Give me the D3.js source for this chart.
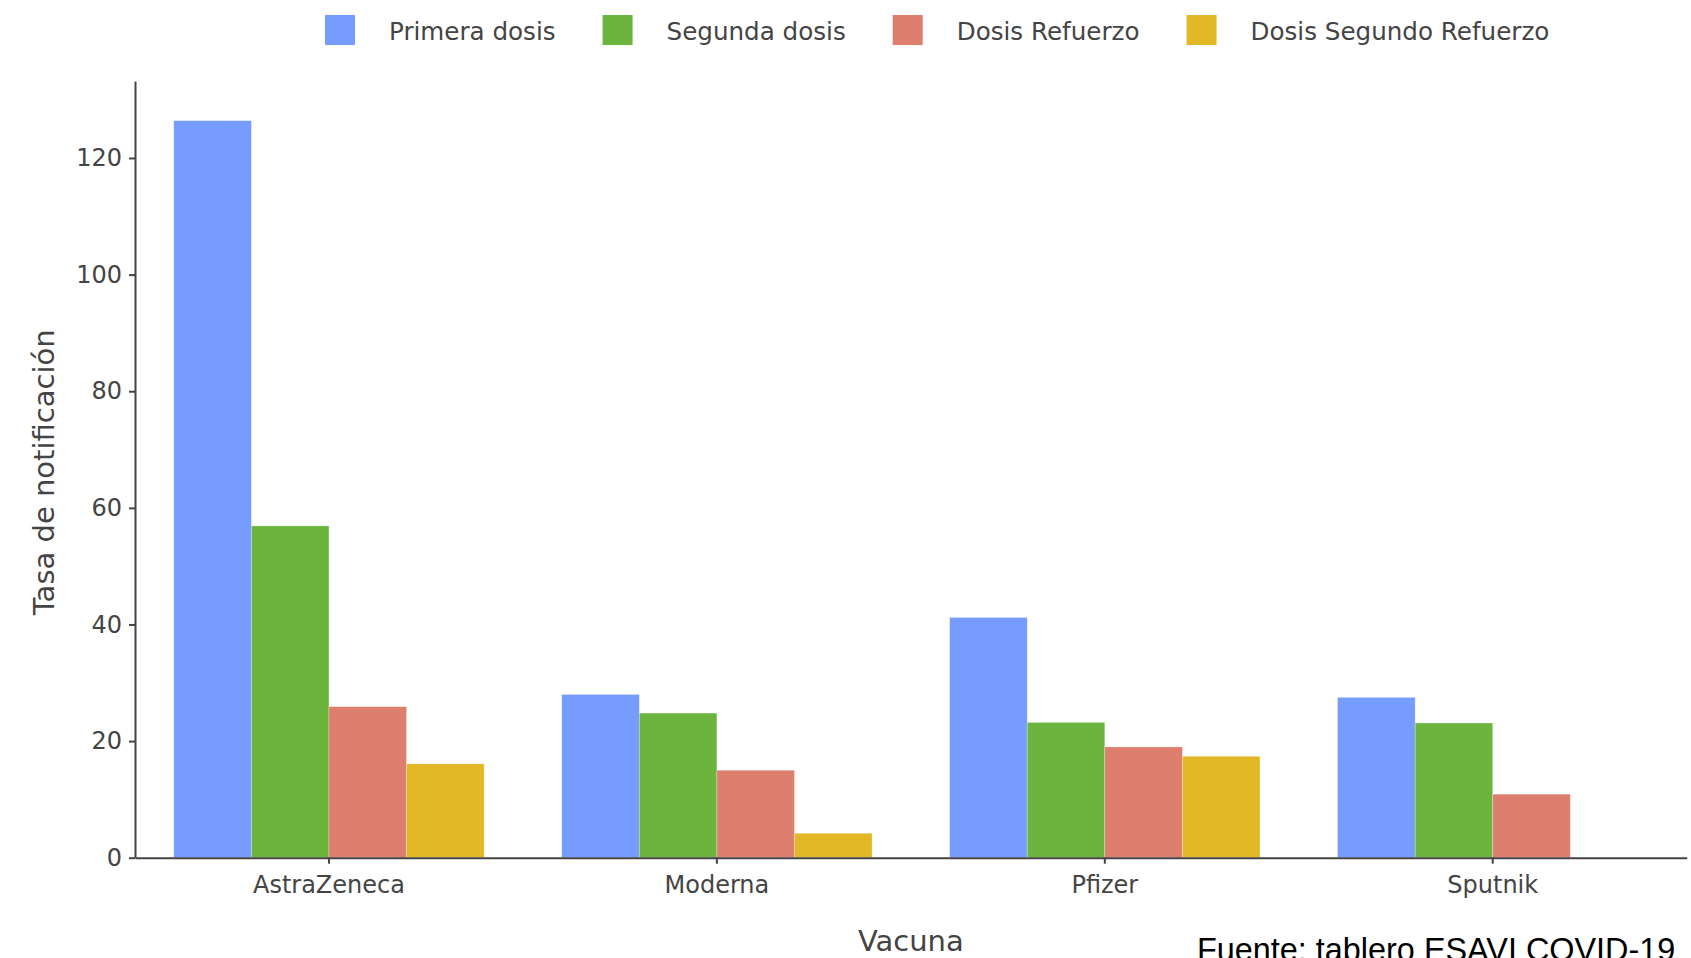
<!DOCTYPE html>
<html>
<head>
<meta charset="utf-8">
<script src="https://cdn.jsdelivr.net/npm/d3@7"></script>
<style>
  html, body { margin: 0; padding: 0; background: #fff; }
  svg { display: block; }
</style>
</head>
<body>
<svg id="chart" width="1691" height="958"></svg>
<script>
const categories = ["AstraZeneca", "Moderna", "Pfizer", "Sputnik"];
const seriesNames = ["Primera dosis", "Segunda dosis", "Dosis Refuerzo", "Dosis Segundo Refuerzo"];
const primeraDosis = [126.4, 28.0, 41.2, 27.5];
const segundaDosis = [56.9, 24.8, 23.2, 23.1];
const dosisRefuerzo = [25.9, 15.0, 19.0, 10.9];
const dosisSegundoRefuerzo = [16.1, 4.2, 17.4, null];
const yTicks = [0, 20, 40, 60, 80, 100, 120];
const colors = ["#779cff", "#6bb43e", "#dd7e6e", "#e2b827"];

const seriesValues = [primeraDosis, segundaDosis, dosisRefuerzo, dosisSegundoRefuerzo];

const svg = d3.select("#chart");
const mLeft = 135, mRight = 1686.7, mTop = 81, mBottom = 857.7;
const font = "'DejaVu Sans', Verdana, sans-serif";
const textColor = "#444";

const x = d3.scaleBand().domain(categories).range([mLeft, mRight]).paddingInner(0.2).paddingOuter(0.1);
const xs = d3.scaleBand().domain(seriesNames).range([0, x.bandwidth()]).padding(0);
const y = d3.scaleLinear().domain([0, 133.2]).range([mBottom, mTop]);

// bars
const data = [];
categories.forEach((c, i) => {
  seriesNames.forEach((s, j) => {
    const v = seriesValues[j][i];
    if (v != null) data.push({ c, s, v, j });
  });
});
svg.append("g").selectAll("rect").data(data).enter().append("rect")
  .attr("x", d => x(d.c) + xs(d.s))
  .attr("width", xs.bandwidth())
  .attr("y", d => y(d.v))
  .attr("height", d => y(0) - y(d.v))
  .attr("fill", d => colors[d.j])
  .attr("stroke", "rgba(255,255,255,0.45)")
  .attr("stroke-width", 0.6);

// y axis
const yAxis = svg.append("g").attr("transform", `translate(${mLeft},0)`)
  .call(d3.axisLeft(y).tickValues(yTicks).tickSize(6).tickPadding(7).tickSizeOuter(0));
yAxis.select(".domain").attr("stroke", "#444").attr("stroke-width", 2);
yAxis.selectAll(".tick line").attr("stroke", "#444").attr("stroke-width", 2);
yAxis.selectAll(".tick text").attr("fill", textColor).attr("font-size", 24).attr("font-family", font);

// x axis
const xAxis = svg.append("g").attr("transform", `translate(0,${mBottom})`)
  .call(d3.axisBottom(x).tickSize(6).tickPadding(12).tickSizeOuter(0));
xAxis.select(".domain").attr("stroke", "#444").attr("stroke-width", 2);
xAxis.selectAll(".tick line").attr("stroke", "#444").attr("stroke-width", 2);
xAxis.selectAll(".tick text").attr("fill", textColor).attr("font-size", 24).attr("font-family", font);

// axis titles
svg.append("text")
  .attr("x", (mLeft + mRight) / 2).attr("y", 951)
  .attr("text-anchor", "middle")
  .attr("font-family", font).attr("font-size", 29).attr("fill", textColor)
  .text("Vacuna");
svg.append("text")
  .attr("transform", `translate(54,${(mTop + mBottom) / 2 + 3}) rotate(-90)`)
  .attr("text-anchor", "middle")
  .attr("font-family", font).attr("font-size", 29).attr("fill", textColor)
  .text("Tasa de notificación");

// legend
const legend = svg.append("g");
let lx = 325;
seriesNames.forEach((s, j) => {
  legend.append("rect").attr("x", lx).attr("y", 15).attr("width", 30).attr("height", 30)
    .attr("fill", colors[j]);
  const t = legend.append("text").attr("x", lx + 64).attr("y", 39.5)
    .attr("font-family", font).attr("font-size", 24.6).attr("fill", textColor).text(s);
  lx = lx + 64 + t.node().getComputedTextLength() + 47;
});

// source note
svg.append("text")
  .attr("x", 1197).attr("y", 961)
  .attr("font-family", "'Liberation Sans', Arial, sans-serif").attr("font-size", 32.4).attr("fill", "#000")
  .text("Fuente: tablero ESAVI COVID-19");
</script>
</body>
</html>
